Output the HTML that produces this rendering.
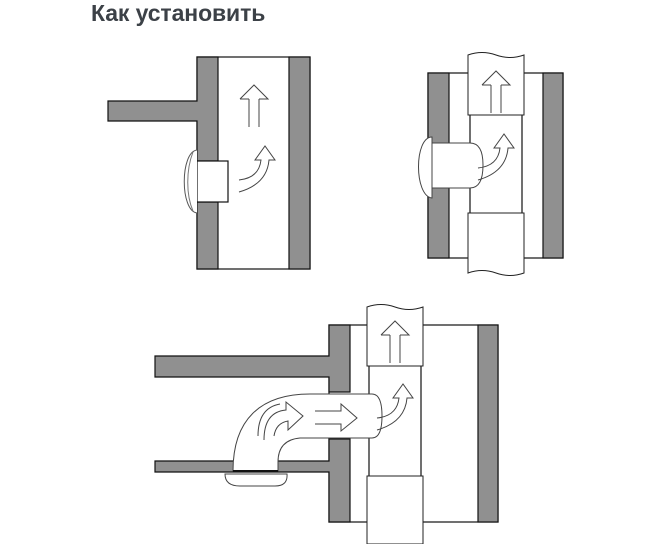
<!DOCTYPE html>
<html><head><meta charset="utf-8"><style>
html,body{margin:0;padding:0;background:#fff;}
body{width:665px;height:544px;overflow:hidden;position:relative;}
.t{position:absolute;left:91px;top:0px;font:bold 23px "Liberation Sans",sans-serif;color:#3c4147;letter-spacing:-0.1px;}
svg{position:absolute;left:0;top:0;}
</style></head><body>
<div class="t">Как установить</div>
<svg width="665" height="544" viewBox="0 0 665 544">
<defs>
<g id="up">
<path d="M0,0 L14,-14 L28,0 L19,0 M9,0 L0,0" fill="#fff" stroke="#444" stroke-width="1"/>
<path d="M9,0 V28 M19,0 V28" fill="none" stroke="#444" stroke-width="1"/>
</g>
<g id="curv">
<path d="M0,0 Q20,-2 22,-20 L16,-20 L26,-34 L36,-20 L30,-20 Q28,4 0,12" fill="none" stroke="#444" stroke-width="1"/>
</g>
</defs>
<g stroke="#111" stroke-width="1.2">
<rect x="197" y="57" width="113" height="212" fill="#fff"/>
<path d="M108,101 H197 V57 H218 V161 H197 V202 H218 V269 H197 V121 H108 Z" fill="#909090"/>
<rect x="289" y="57" width="21" height="212" fill="#909090"/>
<rect x="197" y="161" width="31" height="41" fill="#fff"/>
</g>
<path d="M197,150 C180,152 180,211 197,213" fill="#fff" stroke="#555"/>
<path d="M193,152 C186,170 186,195 193,211" fill="none" stroke="#777"/>
<use href="#up" x="240" y="99"/>
<use href="#curv" x="239" y="180"/>

<g stroke="#111" stroke-width="1.2">
<rect x="428" y="73" width="135" height="185" fill="#fff"/>
<rect x="428" y="73" width="21" height="185" fill="#909090"/>
<rect x="543" y="73" width="20" height="185" fill="#909090"/>
<path d="M470,73 V258 M522,73 V258" fill="none"/>
</g>
<path d="M468,55 Q482,50 496,55 T524,55 V115 H468 Z" fill="#fff" stroke="#222"/>
<path d="M468,213 H524 V273 Q510,278 496,273 T468,273 Z" fill="#fff" stroke="#222"/>
<path d="M432,143 H470 Q483,143 483,165 Q483,188 470,188 H432 Z" fill="#fff" stroke="#444"/>
<path d="M432,137 C414,137 414,196 432,198 Z" fill="#fff" stroke="#444"/>
<use href="#up" x="482" y="85"/>
<use href="#curv" x="478" y="168"/>

<g stroke="#111" stroke-width="1.2">
<rect x="329" y="325" width="169" height="197" fill="#fff"/>
<path d="M155,356 H329 V325 H350 V392 H329 V377 H155 Z" fill="#909090"/>
<path d="M329,439 H350 V522 H329 V472 H155 V461 H329 Z" fill="#909090"/>
<rect x="478" y="325" width="20" height="197" fill="#909090"/>
<path d="M369,325 V522 M421,325 V522" fill="none"/>
</g>
<path d="M367,307 Q381,302 395,307 T423,307 V366 H367 Z" fill="#fff" stroke="#222"/>
<path d="M367,476 H423 V544 H367 Z" fill="#fff" stroke="#222"/>
<path d="M233,471 C233,420 260,394 310,394 H372 Q382,394 382,416 Q382,438 372,438 H300 Q278,440 278,462 V471 Z" fill="#fff" stroke="#444"/>
<path d="M233,471 H278" stroke="#111" stroke-width="2"/>
<path d="M225,474 Q225,486 240,486 H275 Q288,486 287,474 Z" fill="#fff" stroke="#444"/>
<use href="#up" x="381" y="335"/>
<path d="M264,440 Q264,412 286,410 L286,402 L303,416 L288,430 L288,421 Q276,423 274,436" fill="none" stroke="#444"/>
<path d="M258,436 Q258,408 280,404" fill="none" stroke="#444"/>
<path d="M315,411 H341 V404 L357,418 L341,431 V424 H315" fill="none" stroke="#444"/>
<use href="#curv" x="377" y="418"/>
</svg>
</body></html>
